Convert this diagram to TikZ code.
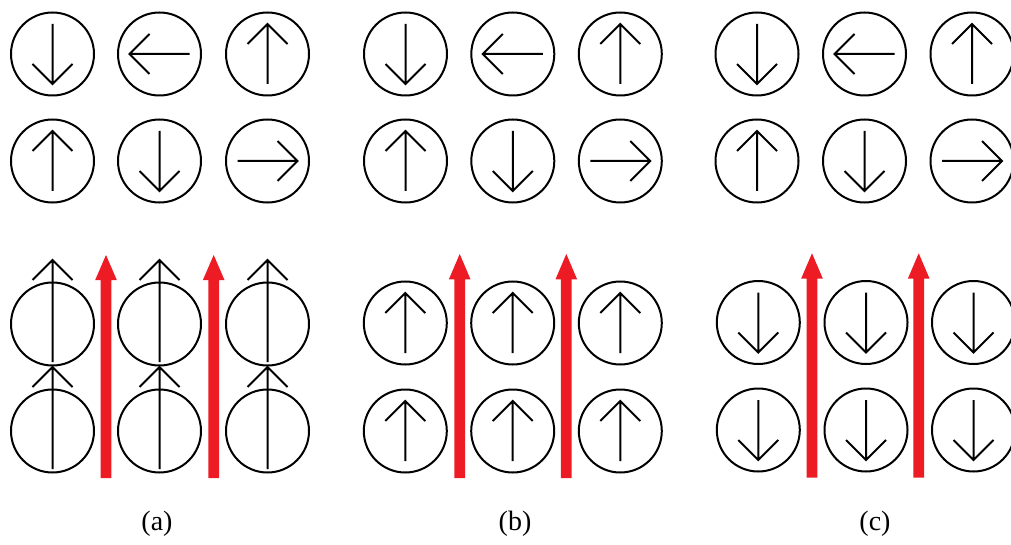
\documentclass[tikz,border=0pt]{standalone}
\usepackage{fontspec}
\setmainfont{Liberation Serif}
\definecolor{fieldred}{HTML}{ED1C24}
\begin{document}
\begin{tikzpicture}[x=0.5pt,y=-0.5pt,
  cell/.style={circle,draw=black,line width=1pt,minimum size=41.5pt,inner sep=0pt},
  spinline/.style={draw=black,line width=1pt,line join=miter},
  spin/.pic={\draw[spinline] (0,-30) -- (0,30) (-20,10) -- (0,30) -- (20,10);},
  longspin/.pic={\draw[spinline] (0,38) -- (0,-64) (-20,-44) -- (0,-64) -- (20,-44);},
  caption/.style={font=\fontsize{14pt}{16pt}\selectfont,inner sep=0pt}]
\useasboundingbox (0,0) rectangle (1011,545);
\clip (0,0) rectangle (1011,545);
% ---------- top rows (same in all panels) ----------
\foreach \p/\xa/\xb/\xc in {a/52.5/159.5/267.5, b/405.5/512.8/620.3, c/757/864.5/972}{
  \node[cell] (\p t11) at (\xa,54) {};
  \node[cell] (\p t12) at (\xb,54) {};
  \node[cell] (\p t13) at (\xc,54) {};
  \node[cell] (\p t21) at (\xa,161) {};
  \node[cell] (\p t22) at (\xb,161) {};
  \node[cell] (\p t23) at (\xc,161) {};
  \pic at (\p t11) {spin};
  \pic[rotate=-90] at (\p t12) {spin};
  \pic[rotate=180] at (\p t13) {spin};
  \pic[rotate=180] at (\p t21) {spin};
  \pic at (\p t22) {spin};
  \pic[rotate=90] at (\p t23) {spin};
}
% ---------- bottom rows ----------
\foreach \p/\xa/\xb/\xc/\ya/\yb in {a/52.5/159.5/267.5/324/431, b/405.3/512.7/620.3/323/431, c/758.3/866/973.5/322.5/430}{
  \node[cell] (\p b11) at (\xa,\ya) {};
  \node[cell] (\p b12) at (\xb,\ya) {};
  \node[cell] (\p b13) at (\xc,\ya) {};
  \node[cell] (\p b21) at (\xa,\yb) {};
  \node[cell] (\p b22) at (\xb,\yb) {};
  \node[cell] (\p b23) at (\xc,\yb) {};
}
% spins, panel (a): long, pointing up
\foreach \n in {11,12,13,21,22,23}{\pic at (ab\n) {longspin};}
% spins, panel (b): up
\foreach \n in {11,12,13,21,22,23}{\pic[rotate=180] at (bb\n) {spin};}
% spins, panel (c): down
\foreach \n in {11,12,13,21,22,23}{\pic at (cb\n) {spin};}
% ---------- red field arrows ----------
\foreach \x/\t/\b/\e in {106/255/280/478, 213.7/255/280/478, 459.7/254/279.3/478, 566.3/254/279.3/478, 812/253.3/278.5/477.5, 918.7/253.3/278.5/477.5}{
  \fill[fieldred] (\x-5.4,\e) -- (\x-5.4,\b) -- (\x-10.8,\b) -- (\x,\t) -- (\x+10.8,\b) -- (\x+5.4,\b) -- (\x+5.4,\e) -- cycle;
}
% ---------- captions ----------
\node[caption] (capa) at (157,524) {(a)};
\node[caption] (capb) at (515,524) {(b)};
\node[caption] (capc) at (875,524) {(c)};
\end{tikzpicture}
\end{document}
